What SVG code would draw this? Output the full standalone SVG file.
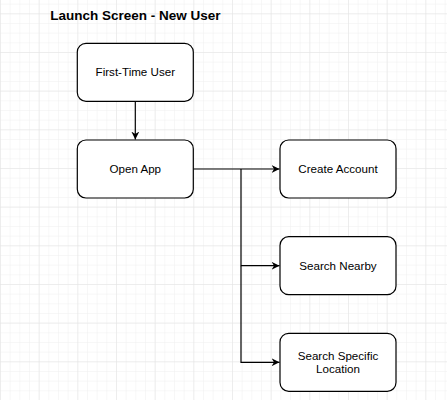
<svg xmlns="http://www.w3.org/2000/svg" width="447" height="400" viewBox="0 0 447 400">
<defs>
<pattern id="minor" width="9.6667" height="9.6667" patternUnits="userSpaceOnUse" x="0" y="3.67">
<path d="M 9.6667 0 L 0 0 0 9.6667" fill="none" stroke="#f0f0f0" stroke-width="1"/>
</pattern>
<pattern id="major" width="38.667" height="38.667" patternUnits="userSpaceOnUse" x="0" y="13.3">
<path d="M 38.667 0 L 0 0 0 38.667" fill="none" stroke="#e3e3e3" stroke-width="1"/>
</pattern>
<marker id="arrow" markerWidth="10" markerHeight="10" refX="8" refY="5" orient="auto" markerUnits="userSpaceOnUse">
<path d="M0,1 L8,5 L0,9 L2.5,5 Z" fill="#000"/>
</marker>
<style>
.box{fill:#fff;stroke:#000;stroke-width:1.2}
.lbl{font-family:"Liberation Sans",Arial,sans-serif;font-size:11.6px;fill:#000;text-anchor:middle}
.title{font-family:"Liberation Sans",Arial,sans-serif;font-size:13.5px;font-weight:bold;fill:#000;text-anchor:middle}
.conn{fill:none;stroke:#000;stroke-width:1.2}
</style>
</defs>
<rect width="447" height="400" fill="#fff"/>
<rect width="447" height="400" fill="url(#minor)"/>
<rect width="447" height="400" fill="url(#major)"/>
<text class="title" x="135.3" y="19.5">Launch Screen - New User</text>
<g id="connectors">
<path class="conn" d="M135.3,101.3 L135.3,139.5" marker-end="url(#arrow)"/>
<path class="conn" d="M193.3,169 L279.5,169" marker-end="url(#arrow)"/>
<path class="conn" d="M241,169 L241,265.7 L279.5,265.7" marker-end="url(#arrow)"/>
<path class="conn" d="M241,265.7 L241,362.3 L279.5,362.3" marker-end="url(#arrow)"/>
</g>
<g id="first-time-user">
<rect class="box" x="77.3" y="43.3" width="116" height="58" rx="8.7"/>
<text class="lbl" x="135.3" y="76.3">First-Time User</text>
</g>
<g id="open-app">
<rect class="box" x="77.3" y="140" width="116" height="58" rx="8.7"/>
<text class="lbl" x="135.3" y="173">Open App</text>
</g>
<g id="create-account">
<rect class="box" x="280" y="140" width="116" height="58" rx="8.7"/>
<text class="lbl" x="338" y="173">Create Account</text>
</g>
<g id="search-nearby">
<rect class="box" x="280" y="236.7" width="116" height="58" rx="8.7"/>
<text class="lbl" x="338" y="269.7">Search Nearby</text>
</g>
<g id="search-specific-location">
<rect class="box" x="280" y="333.3" width="116" height="58" rx="8.7"/>
<text class="lbl" x="338" y="359.5">Search Specific</text>
<text class="lbl" x="338" y="373">Location</text>
</g>
</svg>
